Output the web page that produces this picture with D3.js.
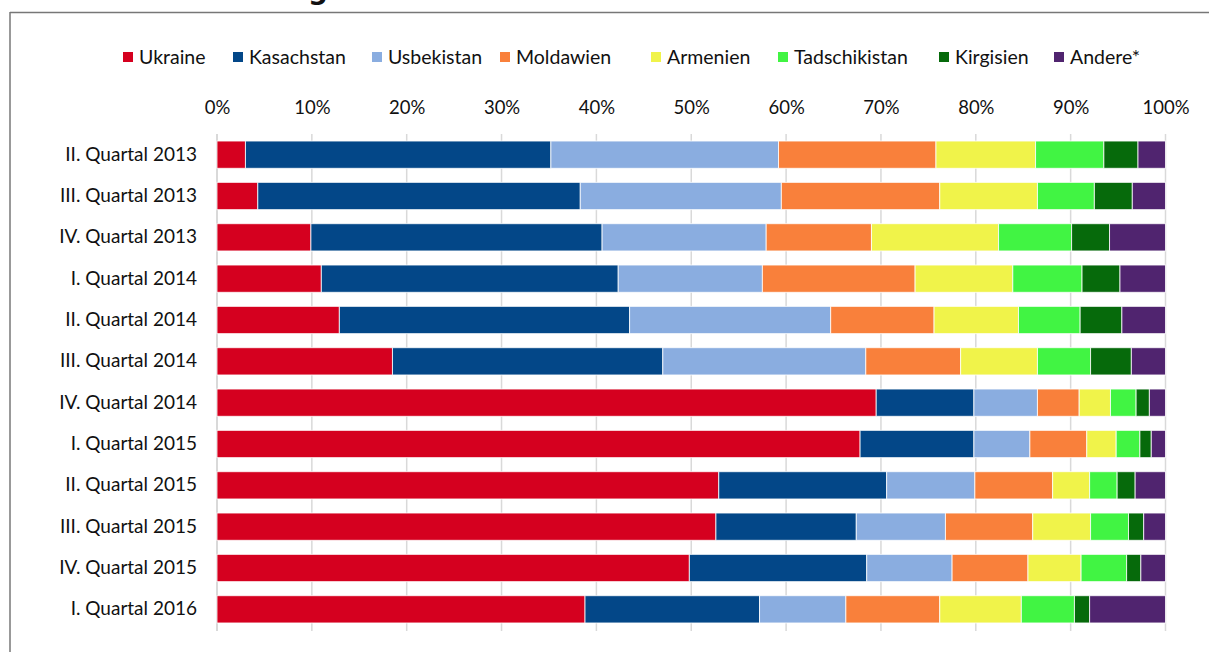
<!DOCTYPE html>
<html>
<head>
<meta charset="utf-8">
<script src="https://cdn.jsdelivr.net/npm/d3@7"></script>
<style>
  html, body { margin: 0; padding: 0; background: #fff; }
  svg { display: block; font-family: Lato, "Open Sans", sans-serif; }
</style>
</head>
<body>
<svg id="chart" width="1209" height="652"></svg>
<script>
// quarters, top to bottom
var quarters = [
  'II. Quartal 2013', 'III. Quartal 2013', 'IV. Quartal 2013',
  'I. Quartal 2014', 'II. Quartal 2014', 'III. Quartal 2014', 'IV. Quartal 2014',
  'I. Quartal 2015', 'II. Quartal 2015', 'III. Quartal 2015', 'IV. Quartal 2015',
  'I. Quartal 2016'
];

var countries = ['Ukraine', 'Kasachstan', 'Usbekistan', 'Moldawien', 'Armenien', 'Tadschikistan', 'Kirgisien', 'Andere*'];
var colors = ['#d5001f', '#034788', '#8aade0', '#f9803b', '#f0f34a', '#41f443', '#066a0b', '#50246f'];

// shares in percent, one array per country, in quarter order
var ukraine       = [3.0, 4.3, 9.9, 11.0, 12.9, 18.5, 69.5, 67.8, 52.9, 52.6, 49.8, 38.8];
var kasachstan    = [32.2, 34.0, 30.7, 31.3, 30.6, 28.5, 10.3, 12.0, 17.7, 14.8, 18.7, 18.4];
var usbekistan    = [24.0, 21.2, 17.3, 15.2, 21.2, 21.4, 6.7, 5.9, 9.3, 9.4, 9.0, 9.1];
var moldawien     = [16.6, 16.7, 11.1, 16.1, 10.9, 10.0, 4.4, 6.0, 8.2, 9.2, 8.0, 9.9];
var armenien      = [10.5, 10.3, 13.4, 10.3, 8.9, 8.1, 3.3, 3.1, 3.9, 6.1, 5.6, 8.6];
var tadschikistan = [7.2, 6.0, 7.7, 7.3, 6.5, 5.6, 2.7, 2.5, 2.9, 4.0, 4.8, 5.6];
var kirgisien     = [3.6, 4.0, 4.0, 4.0, 4.4, 4.3, 1.4, 1.2, 1.9, 1.6, 1.5, 1.6];
var andere        = [2.9, 3.5, 5.9, 4.8, 4.6, 3.6, 1.7, 1.5, 3.2, 2.3, 2.6, 8.0];

var tickValues = [0, 10, 20, 30, 40, 50, 60, 70, 80, 90, 100];

var series = [ukraine, kasachstan, usbekistan, moldawien, armenien, tadschikistan, kirgisien, andere];

var rows = quarters.map(function (q, i) {
  var row = { quarter: q };
  countries.forEach(function (c, k) { row[c] = series[k][i]; });
  return row;
});

var svg = d3.select('#chart');

// frame and cut-off title
svg.append('line')
  .attr('x1', 10).attr('x2', 1209).attr('y1', 12.5).attr('y2', 12.5)
  .attr('stroke', '#777').attr('stroke-width', 1.5);
svg.append('line')
  .attr('x1', 10).attr('x2', 10).attr('y1', 12).attr('y2', 652)
  .attr('stroke', '#777').attr('stroke-width', 1.5);
svg.append('text')
  .attr('x', 308).attr('y', -1)
  .style('font-family', '"DejaVu Sans", sans-serif')
  .style('font-weight', 'bold')
  .style('font-size', '28px')
  .attr('fill', '#111')
  .text('g');

var x = d3.scaleLinear().domain([0, 100]).range([217, 1165.5]);
var y = d3.scaleBand().domain(quarters).range([134, 630])
  .paddingInner(0.34).paddingOuter(0.17);

// gridlines
svg.append('g').selectAll('line')
  .data(tickValues)
  .enter().append('line')
  .attr('x1', function (d) { return x(d); })
  .attr('x2', function (d) { return x(d); })
  .attr('y1', 134).attr('y2', 631)
  .attr('stroke', '#d9d9d9')
  .attr('stroke-width', function (d) { return d === 0 ? 2 : 1.5; });

// top axis labels
var xAxis = svg.append('g')
  .attr('transform', 'translate(0,114)')
  .call(d3.axisTop(x).tickValues(tickValues).tickSize(0).tickPadding(0)
    .tickFormat(function (d) { return d + '%'; }));
xAxis.select('.domain').remove();
xAxis.selectAll('text')
  .style('font-family', 'Lato, sans-serif')
  .style('font-size', '18.5px')
  .attr('fill', '#111');

// category labels
var yAxis = svg.append('g')
  .attr('transform', 'translate(197,0)')
  .call(d3.axisLeft(y).tickSize(0).tickPadding(0));
yAxis.select('.domain').remove();
yAxis.selectAll('text')
  .style('font-family', 'Lato, sans-serif')
  .style('font-size', '19px')
  .attr('fill', '#111');

// stacked bars
var stacked = d3.stack().keys(countries)(rows);

svg.append('g').selectAll('g')
  .data(stacked)
  .enter().append('g')
  .attr('fill', function (d, i) { return colors[i]; })
  .selectAll('rect')
  .data(function (d) { return d; })
  .enter().append('rect')
  .attr('x', function (d) { return x(d[0]); })
  .attr('width', function (d) { return x(d[1]) - x(d[0]); })
  .attr('y', function (d) { return y(d.data.quarter); })
  .attr('height', y.bandwidth())
  .attr('stroke', '#fff')
  .attr('stroke-opacity', 0.8)
  .attr('stroke-width', 1);

// legend
var legendX = [123, 233, 372, 500, 651, 778, 939, 1054];
var legend = svg.append('g').selectAll('g')
  .data(countries)
  .enter().append('g')
  .attr('transform', function (d, i) { return 'translate(' + legendX[i] + ',57)'; });
legend.append('rect')
  .attr('x', 0).attr('y', -5).attr('width', 10).attr('height', 10)
  .attr('fill', function (d, i) { return colors[i]; });
legend.append('text')
  .attr('x', 16).attr('dy', '0.35em')
  .style('font-size', '19.5px')
  .attr('fill', '#111')
  .text(function (d) { return d; });
</script>
</body>
</html>
